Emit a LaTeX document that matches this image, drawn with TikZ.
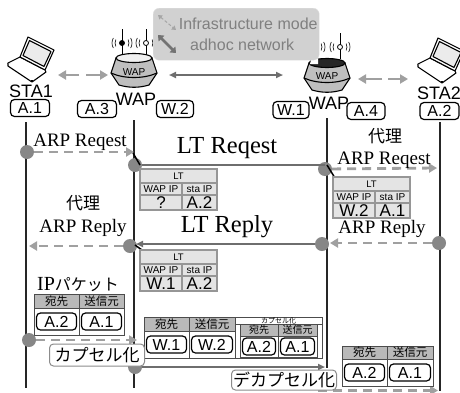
\documentclass[tikz,border=0pt]{standalone}
\usepackage{fontspec}
\setmainfont{Liberation Serif}
\setsansfont{Liberation Sans}
\newfontfamily\jpfont{Noto Sans CJK JP}
\usepackage{tikz}
\usetikzlibrary{arrows.meta,shapes,positioning}
\definecolor{dotgray}{RGB}{135,135,135}
\definecolor{dashgray}{RGB}{160,160,160}
\definecolor{linegray}{RGB}{110,110,110}
\definecolor{cellgray}{RGB}{228,228,228}
\definecolor{headgray}{RGB}{185,185,185}
\definecolor{edgegray}{RGB}{150,150,150}
\newcommand{\fsize}[1]{\fontsize{#1}{#1}\selectfont}
\tikzset{
    addr/.style={draw, line width=1.2pt, rounded corners=4pt, font=\sffamily\fsize{16}, inner sep=0pt, minimum height=17pt, fill=white},
    lifeline/.style={draw=black!85, line width=1.2pt},
    dot/.style={circle, fill=dotgray, minimum size=14pt, inner sep=0pt},
    dashmsg/.style={draw=dashgray, line width=2.8pt, dash pattern=on 9pt off 6pt, -{Triangle[length=8pt,width=9pt]}},
    plainarrow/.style={draw=dashgray, line width=2.8pt, -{Triangle[length=8pt,width=9pt]}},
    solidmsg/.style={draw=linegray, line width=2.8pt, -{Triangle[length=7pt,width=6pt]}},
    slant/.style={draw=black, line width=1.5pt},
    ltcell/.style={draw=edgegray, line width=1.5pt, fill=cellgray, inner sep=0pt, outer sep=0pt},
    hdrcell/.style={draw=black!70, line width=0.5pt, fill=headgray, inner sep=0pt, outer sep=0pt, font=\jpfont\fsize{11.5}},
    valcell/.style={draw=black!70, line width=0.5pt, fill=white, inner sep=0pt, outer sep=0pt},
    steplabel/.style={draw=black!45, line width=1pt, fill=white, rounded corners=4pt, inner sep=0pt, font=\jpfont\fsize{17}},
    arplabel/.style={font=\fsize{19}, inner sep=0pt},
    ltlabel/.style={font=\fsize{24.5}, inner sep=0pt},
    jplabel/.style={font=\jpfont\fsize{17}, inner sep=0pt},
    namelabel/.style={font=\sffamily\fsize{18}, inner sep=0pt}
}
% LT table: prefix, x, y, left value, right value
\newcommand{\lttable}[5]{
    \node[ltcell, minimum width=77pt, minimum height=14pt, font=\sffamily\fsize{9.5}, anchor=north west] (#1head) at (#2,#3) {LT};
    \node[ltcell, minimum width=42pt, minimum height=12pt, font=\sffamily\fsize{10}, anchor=north west] (#1wap) at (#1head.south west) {WAP IP};
    \node[ltcell, minimum width=35pt, minimum height=12pt, font=\sffamily\fsize{10}, right=0pt of #1wap] (#1sta) {sta IP};
    \node[ltcell, minimum width=42pt, minimum height=15pt, font=\sffamily\fsize{17}, below=0pt of #1wap] (#1left) {#4};
    \node[ltcell, minimum width=35pt, minimum height=15pt, font=\sffamily\fsize{17}, below=0pt of #1sta] (#1right) {#5};
}
% packet table: prefix, x, y, left width, right width, header height, body height, left value, right value
\newcommand{\pkttable}[9]{
    \node[hdrcell, minimum width=#4pt, minimum height=#6pt, anchor=north west] (#1dst) at (#2,#3) {宛先};
    \node[hdrcell, minimum width=#5pt, minimum height=#6pt, right=0pt of #1dst] (#1src) {送信元};
    \node[valcell, minimum width=#4pt, minimum height=#7pt, below=0pt of #1dst] (#1lval) {};
    \node[valcell, minimum width=#5pt, minimum height=#7pt, below=0pt of #1src] (#1rval) {};
    \node[addr, minimum width=#4pt-5pt] (#1la) at (#1lval) {#8};
    \node[addr, minimum width=#5pt-5pt] (#1ra) at (#1rval) {#9};
}
% laptop: x shift, y shift
\newcommand{\laptop}[2]{
    \begin{scope}[shift={(#1,#2)}, line width=1.1pt, line join=round]
        \draw[fill=white] (8,63) -- (20,57) -- (45,70) -- (32,80) -- cycle;
        \draw[fill=white] (8,63) -- (8,66) -- (32,82) -- (46,72) -- (45,70);
        \draw (32,80) -- (32,82);
        \draw[fill=white] (28,37) -- (54,50) -- (45,70) -- (20,57) -- cycle;
        \draw[fill=black!8] (29.5,40.5) -- (51,51.5) -- (44,66.5) -- (23,55.5) -- cycle;
    \end{scope}
}
% access point: x, y, top colour
\newcommand{\wapbody}[3]{
    \begin{scope}[shift={(#1,#2)}, line width=1.1pt]
        \draw[fill=black!25] (-18,-15) -- (-23,0) -- (-15,12) .. controls (-5,15) and (5,15) .. (15,12) -- (23,0) -- (18,-15) -- cycle;
        \draw[fill=#3] (0,-15) ellipse (18pt and 4.5pt);
        \draw (-23,0) .. controls (-10,6) and (10,6) .. (23,0);
    \end{scope}
}
% antenna: node name, x, y, dot colour
\newcommand{\antenna}[4]{
    \draw[line width=0.8pt] (#2,#3-14) -- (#2,#3+12);
    \node[circle, draw, line width=0.8pt, fill=#4, minimum size=5pt, inner sep=0pt] (#1) at (#2,#3) {};
    \draw[line width=0.6pt] (#1.center) +(150:7pt) arc[start angle=150, end angle=210, radius=7pt];
    \draw[line width=0.6pt] (#1.center) +(150:10pt) arc[start angle=150, end angle=210, radius=10pt];
    \draw[line width=0.6pt] (#1.center) +(30:7pt) arc[start angle=30, end angle=-30, radius=7pt];
    \draw[line width=0.6pt] (#1.center) +(30:10pt) arc[start angle=30, end angle=-30, radius=10pt];
}
\begin{document}
\begin{tikzpicture}[x=1pt,y=-1pt]
    \useasboundingbox (0,0) rectangle (460,392);
    \fill[white] (0,0) rectangle (460,392);

    % Life lines
    \coordinate (sta1top) at (26,122);
    \coordinate (sta1end) at (26,388);
    \coordinate (wapltop) at (134,120);
    \coordinate (waplend) at (134,388);
    \coordinate (waprtop) at (327,118);
    \coordinate (waprend) at (327,368);
    \coordinate (sta2top) at (440,122);
    \coordinate (sta2end) at (440,391);
    \draw[lifeline] (sta1top) -- (sta1end);
    \draw[lifeline] (wapltop) -- (waplend);
    \draw[lifeline] (waprtop) -- (waprend);
    \draw[lifeline] (sta2top) -- (sta2end);

    % Devices
    \laptop{0}{0}
    \laptop{410}{1}
    \antenna{antla}{122}{43}{black}
    \antenna{antlb}{146}{43}{white}
    \antenna{antrb}{315}{47}{white}
    \antenna{antra}{340}{47}{white}
    \wapbody{134}{73}{black!6}
    \wapbody{327}{78}{black!85}
    \fill[white] (311,60) -- (318,58.5) -- (318,64) -- (310,64) -- cycle;
    \node[font=\sffamily\fsize{10}, inner sep=0pt] (wapltext) at (134,72) {WAP};
    \node[font=\sffamily\fsize{10}, inner sep=0pt] (waprtext) at (327,76) {WAP};

    % Mode legend
    \node[draw=black!12, fill=black!18, rounded corners=6pt, minimum width=166pt, minimum height=52pt, inner sep=0pt, anchor=north west, align=center, text=black!50, font=\sffamily\fontsize{16}{21}\selectfont] (legend) at (153,8) {\hspace*{24pt}Infrastructure mode\\\hspace*{12pt}adhoc network};
    \coordinate (adhocA) at (158,15);
    \coordinate (adhocB) at (176,30);
    \coordinate (infraA) at (158,35);
    \coordinate (infraB) at (176,53);
    \draw[draw=black!35, line width=1pt, dash pattern=on 3pt off 2pt, {Triangle[length=4pt,width=5pt]}-{Triangle[length=4pt,width=5pt]}] (adhocA) -- (adhocB);
    \draw[draw=black!55, line width=2.5pt, {Triangle[length=5pt,width=8pt]}-{Triangle[length=5pt,width=8pt]}] (infraA) -- (infraB);

    % Wireless links
    \coordinate (linkaL) at (79,75);
    \coordinate (linkaT) at (58,75);
    \coordinate (linkbL) at (86,75);
    \coordinate (linkbT) at (108,75);
    \draw[plainarrow] (linkaL) -- (linkaT);
    \draw[plainarrow] (linkbL) -- (linkbT);
    \coordinate (linkcL) at (382,79);
    \coordinate (linkcT) at (358,79);
    \coordinate (linkdL) at (388,79);
    \coordinate (linkdT) at (408,79);
    \draw[plainarrow] (linkcL) -- (linkcT);
    \draw[plainarrow] (linkdL) -- (linkdT);
    \coordinate (wiredL) at (169,75);
    \coordinate (wiredR) at (283,75);
    \draw[solidmsg, {Triangle[length=7pt,width=6pt]}-{Triangle[length=7pt,width=6pt]}] (wiredL) -- (wiredR);

    % Names and addresses
    \node[namelabel] (sta1name) at (31,91) {STA1};
    \node[namelabel] (sta2name) at (439,93) {STA2};
    \node[namelabel] (waplname) at (136,99) {WAP};
    \node[namelabel] (waprname) at (329,103) {WAP};
    \node[addr, minimum width=39pt] (a1) at (30,108) {A.1};
    \node[addr, minimum width=39pt] (a3) at (97,109) {A.3};
    \node[addr, minimum width=37pt] (w2) at (175,109) {W.2};
    \node[addr, minimum width=36pt] (w1) at (291,110) {W.1};
    \node[addr, minimum width=38pt] (a4) at (366,111) {A.4};
    \node[addr, minimum width=39pt] (a2) at (439.5,111) {A.2};

    % ARP request
    \node[arplabel] (arpreqa) at (80,142) {ARP Reqest};
    \node[dot] (reqsta) at (27,152) {};
    \coordinate (reqwap) at (134,152);
    \draw[dashmsg] (reqsta) -- (reqwap);
    \node[dot] (ltreqa) at (135,165) {};
    \node[dot] (ltreqb) at (325,169) {};
    \node[ltlabel] (ltreq) at (227,148) {LT Reqest};
    \draw[draw=linegray, line width=2.8pt] (ltreqa) -- (ltreqa -| ltreqb);
    \coordinate (slantaA) at (133,153);
    \coordinate (slantaB) at (140,165);
    \coordinate (slantbA) at (327,165);
    \coordinate (slantbB) at (335,178);
    \coordinate (reqend) at (437,168);
    \draw[dashmsg] (ltreqb) -- (reqend);
    \draw[slant] (slantaA) -- (slantaB);
    \draw[slant] (slantbA) -- (slantbB);
    \node[jplabel] (proxya) at (385,136) {代理};
    \node[arplabel] (arpreqb) at (384,160) {ARP Reqest};
    \lttable{lta}{140}{169}{?}{A.2}
    \lttable{ltb}{333}{177}{W.2}{A.1}

    % ARP reply
    \node[jplabel] (proxyb) at (83,203) {代理};
    \node[arplabel] (arprepa) at (83,228) {ARP Reply};
    \node[arplabel] (arprepb) at (382,229) {ARP Reply};
    \node[ltlabel] (ltrep) at (227,227) {LT Reply};
    \node[dot] (ltrepa) at (130,246) {};
    \node[dot] (ltrepb) at (322,244) {};
    \node[dot] (repsta) at (439,243) {};
    \coordinate (repwap) at (330,243);
    \coordinate (repend) at (29,246);
    \coordinate (repline) at (136,244);
    \coordinate (slantcA) at (135,245);
    \coordinate (slantcB) at (142,250);
    \draw[dashmsg] (ltrepa) -- (repend);
    \draw[dashmsg] (repsta) -- (repwap);
    \draw[solidmsg] (ltrepb) -- (repline);
    \draw[slant] (slantcA) -- (slantcB);
    \lttable{ltc}{140}{250}{W.1}{A.2}

    % IP packet
    \node[inner sep=0pt] (iptitle) at (78,285) {{\fsize{20}IP}{\jpfont\fsize{16}パケット}};
    \pkttable{ip}{34}{294}{45}{45}{14}{27}{A.2}{A.1}
    \node[dot] (ipsta) at (29,340) {};
    \coordinate (ipwap) at (137,340);
    \draw[dashmsg] (ipsta) -- (ipwap);

    % Tunnel packet
    \node[dot] (tunnela) at (135,367) {};
    \coordinate (tunnelb) at (325,367);
    \draw[solidmsg] (tunnela) -- (tunnelb);
    \pkttable{out}{144}{317}{45}{46}{14}{27}{W.1}{W.2}
    \node[valcell, minimum width=87pt, minimum height=41pt, anchor=north west] (encbox) at (235,317) {};
    \node[valcell, font=\jpfont\fsize{7}, minimum width=87pt, minimum height=7pt, anchor=north west] (enchead) at (235,317) {カプセル化};
    \begin{scope}[hdrcell/.append style={font=\jpfont\fsize{10}}]
        \pkttable{inn}{240}{324}{38}{39}{12}{21}{A.2}{A.1}
    \end{scope}
    \node[steplabel, minimum width=95pt, minimum height=22pt] (encap) at (97,355) {カプセル化};

    % Delivered packet
    \coordinate (deliva) at (318,390.5);
    \coordinate (delivb) at (438,390.5);
    \draw[dashmsg] (deliva) -- (delivb);
    \pkttable{dec}{342}{346}{45}{46}{13}{27}{A.2}{A.1}
    \node[steplabel, minimum width=105pt, minimum height=20pt] (decap) at (284,380) {デカプセル化};
\end{tikzpicture}
\end{document}
